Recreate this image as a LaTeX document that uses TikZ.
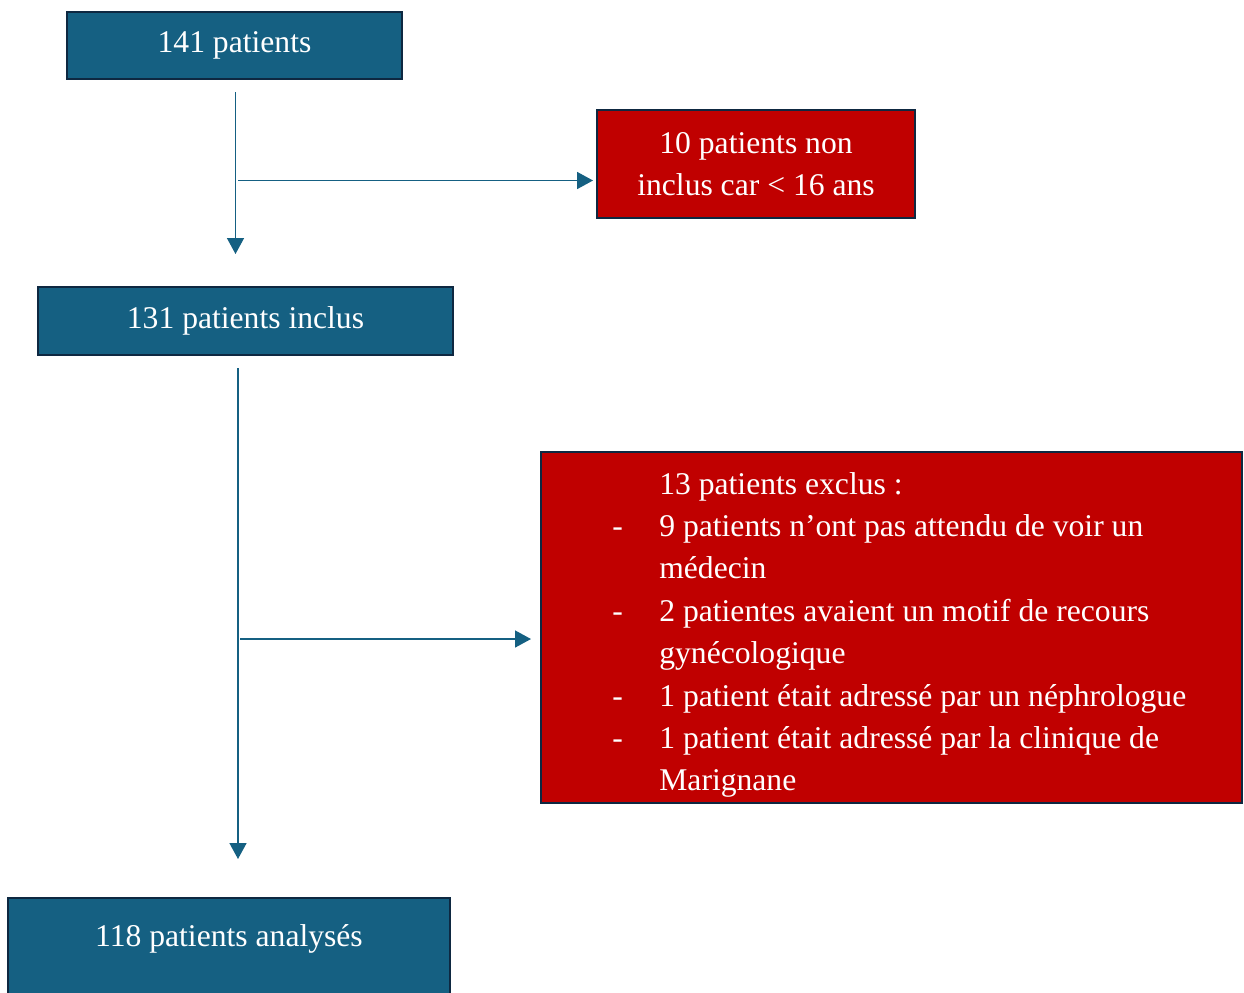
\documentclass[tikz,border=0pt]{standalone}
\usepackage{fontspec}
\setmainfont{Liberation Serif}
\usetikzlibrary{arrows.meta}
\definecolor{boxblue}{HTML}{156082}
\definecolor{boxred}{HTML}{C00000}
\definecolor{boxedge}{HTML}{0E2841}

\tikzset{
    bluebox/.style = {draw = boxedge, line width = 0.04cm, fill = boxblue, text = white, inner sep = 0pt},
    redbox/.style = {draw = boxedge, line width = 0.04cm, fill = boxred, text = white, inner sep = 0pt},
    flow/.style = {draw = boxblue, line width = 0.03cm, -{Triangle[length = 0.32cm, width = 0.34cm]}}
}

\begin{document}
\begin{tikzpicture}[x = 0.02cm, y = -0.02cm, font = \fontsize{18}{24.1}\selectfont]
    % page is 1244 x 992 units
    \clip (0,0) rectangle (1244,992);
    \fill [white] (0,0) rectangle (1244,992);

    % blue boxes
    \node [bluebox, minimum width = 6.7cm, minimum height = 1.34cm] (n141) at (234.5, 45.5) {141 patients};
    \node [bluebox, minimum width = 8.3cm, minimum height = 1.36cm] (n131) at (245.5, 321) {131 patients inclus};
    \node [bluebox, minimum width = 8.84cm, anchor = north, text height = 0.96cm, text depth = 2cm] (n118) at (229, 897) {118 patients analysés};

    % red boxes
    \node [redbox, minimum width = 6.36cm, minimum height = 2.16cm, align = center] (nage) at (756, 164)
        {10 patients non\\inclus car < 16 ans};
    \node [redbox, minimum width = 14.02cm, minimum height = 7.02cm] (nexcl) at (891.5, 627.5) {};
    \node [text = white, inner sep = 0pt, align = left, anchor = north west] (lexcl) at (612, 472)
        {\hspace*{0.94cm}13 patients exclus :\\
         \makebox[0.94cm][l]{-}9 patients n’ont pas attendu de voir un\\
         \hspace*{0.94cm}médecin\\
         \makebox[0.94cm][l]{-}2 patientes avaient un motif de recours\\
         \hspace*{0.94cm}gynécologique\\
         \makebox[0.94cm][l]{-}1 patient était adressé par un néphrologue\\
         \makebox[0.94cm][l]{-}1 patient était adressé par la clinique de\\
         \hspace*{0.94cm}Marignane};

    % connectors
    \coordinate (top1) at (235.5, 92);
    \coordinate (end1) at (235.5, 254);
    \coordinate (fork1) at (238, 180.5);
    \coordinate (top2) at (238, 368);
    \coordinate (end2) at (238, 859);
    \coordinate (fork2) at (240, 639);
    \coordinate (tip2) at (531, 639);

    \draw [flow] (top1) -- (end1);
    \draw [flow, shorten > = 0.06cm] (fork1) -- (nage.west |- fork1);
    \draw [flow] (top2) -- (end2);
    \draw [flow] (fork2) -- (tip2);
\end{tikzpicture}
\end{document}
